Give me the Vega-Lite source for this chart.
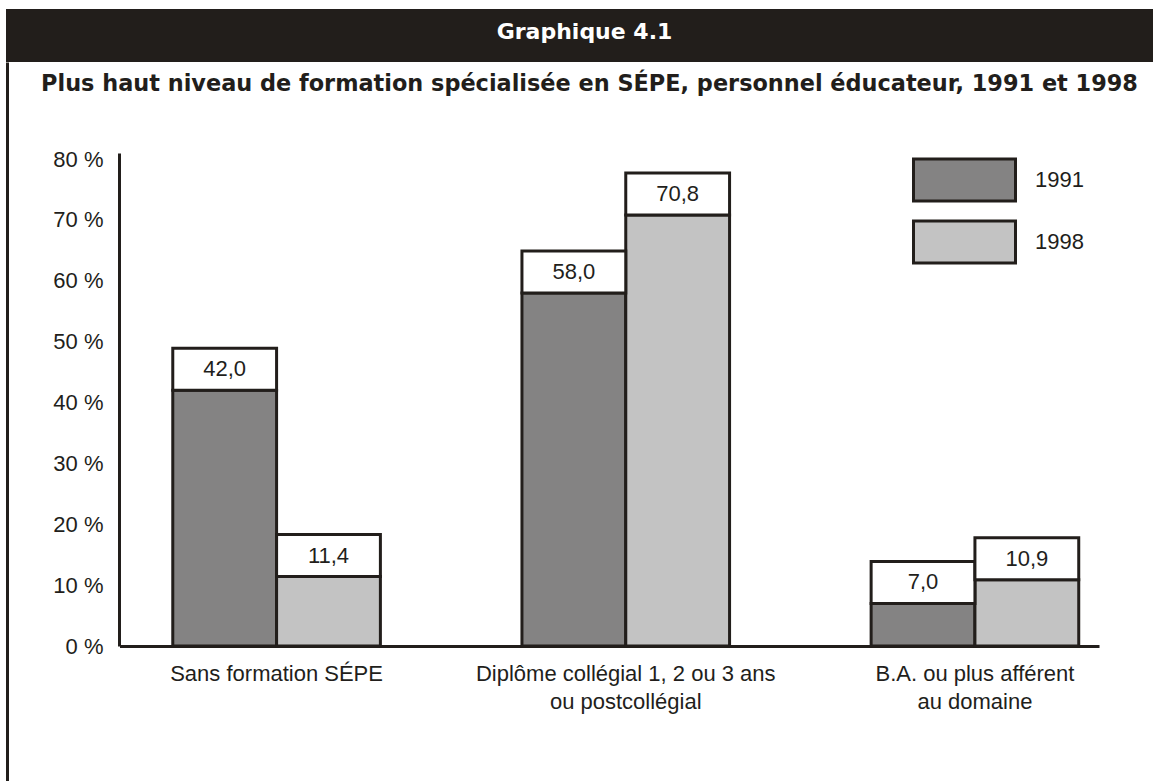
{
  "$schema": "https://vega.github.io/schema/vega-lite/v6.json",
  "padding": {"left": 6, "top": 9, "right": 0, "bottom": 0},
  "config": {
    "view": {"stroke": null},
    "font": "Liberation Sans",
    "locale": {"number": {"decimal": ",", "thousands": " ", "grouping": [3], "currency": ["", " $"]}}
  },
  "spacing": 0,
  "bounds": "flush",
  "vconcat": [
    {
      "width": 1147,
      "height": 53,
      "view": {"fill": "#221e1b", "stroke": null},
      "data": {"values": [{"t": "Graphique 4.1"}]},
      "mark": {"type": "text", "fill": "white", "font": "DejaVu Sans", "fontWeight": "bold", "fontSize": 22, "baseline": "alphabetic", "dy": 3, "dx": 5},
      "encoding": {"text": {"field": "t", "type": "nominal"}}
    },
    {
      "width": 1147,
      "height": 719,
      "view": {"stroke": null},
      "title": {
        "text": "Plus haut niveau de formation spécialisée en SÉPE, personnel éducateur, 1991 et 1998",
        "font": "DejaVu Sans", "fontWeight": "bold", "fontSize": 22.4, "color": "#221e1b",
        "anchor": "middle", "frame": "group", "orient": "top", "offset": -51, "baseline": "alphabetic", "dx": 10
      },
      "data": {"values": [
        {"categorie": "Sans formation SÉPE", "annee": "1991", "pct": 42.0},
        {"categorie": "Sans formation SÉPE", "annee": "1998", "pct": 11.4},
        {"categorie": "Diplôme collégial 1, 2 ou 3 ans ou postcollégial", "annee": "1991", "pct": 58.0},
        {"categorie": "Diplôme collégial 1, 2 ou 3 ans ou postcollégial", "annee": "1998", "pct": 70.8},
        {"categorie": "B.A. ou plus afférent au domaine", "annee": "1991", "pct": 7.0},
        {"categorie": "B.A. ou plus afférent au domaine", "annee": "1998", "pct": 10.9}
      ]},
      "layer": [
        {
          "encoding": {
            "x": {
              "field": "categorie", "type": "nominal", "sort": null,
              "scale": {"range": [113.5, 1093], "paddingInner": 0.4054, "paddingOuter": 0.1053, "align": 0.7245},
              "axis": {
                "orient": "bottom", "offset": -135, "title": null, "ticks": false, "grid": false,
                "domainWidth": 3, "domainColor": "#221e1b", "labelAngle": 0, "labelFont": "Liberation Sans",
                "labelFontSize": 22, "labelColor": "#221e1b", "labelLimit": 0, "labelPadding": 17,
                "labelLineHeight": 28, "labelBaseline": "top",
                "labelExpr": "datum.value == 'Diplôme collégial 1, 2 ou 3 ans ou postcollégial' ? ['Diplôme collégial 1, 2 ou 3 ans', 'ou postcollégial'] : datum.value == 'B.A. ou plus afférent au domaine' ? ['B.A. ou plus afférent', 'au domaine'] : datum.value"
              }
            },
            "xOffset": {"field": "annee", "type": "nominal", "scale": {"paddingInner": 0, "paddingOuter": 0}},
            "y": {
              "field": "pct", "type": "quantitative", "stack": null,
              "scale": {"domain": [0, 81], "range": [584, 91], "nice": false},
              "axis": {
                "orient": "left", "offset": -113, "title": null, "ticks": false, "grid": false,
                "values": [0, 10, 20, 30, 40, 50, 60, 70, 80],
                "labelExpr": "datum.value + ' %'",
                "domainWidth": 3, "domainColor": "#221e1b", "labelFont": "Liberation Sans",
                "labelFontSize": 22, "labelColor": "#221e1b", "labelPadding": 16, "labelBaseline": "middle"
              }
            }
          },
          "layer": [
            {
              "mark": {"type": "bar", "stroke": "#221e1b", "strokeWidth": 3},
              "encoding": {
                "color": {
                  "field": "annee", "type": "nominal",
                  "scale": {"domain": ["1991", "1998"], "range": ["#848383", "#c3c3c3"]},
                  "legend": {
                    "orient": "none", "legendX": 931.5, "legendY": 144, "direction": "vertical", "title": null,
                    "symbolType": "M-2,-0.8235H2V0.8235H-2Z", "symbolSize": 2601,
                    "symbolStrokeColor": "#221e1b", "symbolStrokeWidth": 3,
                    "labelFont": "Liberation Sans", "labelFontSize": 22, "labelColor": "#221e1b",
                    "labelOffset": 43.5, "rowPadding": 8, "padding": 0
                  }
                }
              }
            },
            {
              "mark": {"type": "bar", "fill": "white", "stroke": "#221e1b", "strokeWidth": 3, "y2Offset": -42},
              "encoding": {"y2": {"field": "pct"}}
            },
            {
              "mark": {"type": "text", "dy": -21, "baseline": "middle", "font": "Liberation Sans", "fontSize": 22, "fill": "#221e1b"},
              "encoding": {"text": {"field": "pct", "type": "quantitative", "format": ".1f"}}
            }
          ]
        },
        {
          "mark": {"type": "point", "opacity": 0},
          "encoding": {
            "y": {
              "field": "pct", "type": "quantitative",
              "scale": {"range": [719, 0]},
              "axis": {"orient": "left", "offset": -1, "domainWidth": 3, "domainColor": "#221e1b", "ticks": false, "labels": false, "grid": false, "title": null}
            }
          }
        }
      ],
      "resolve": {"scale": {"y": "independent"}, "axis": {"y": "independent"}}
    }
  ]
}
